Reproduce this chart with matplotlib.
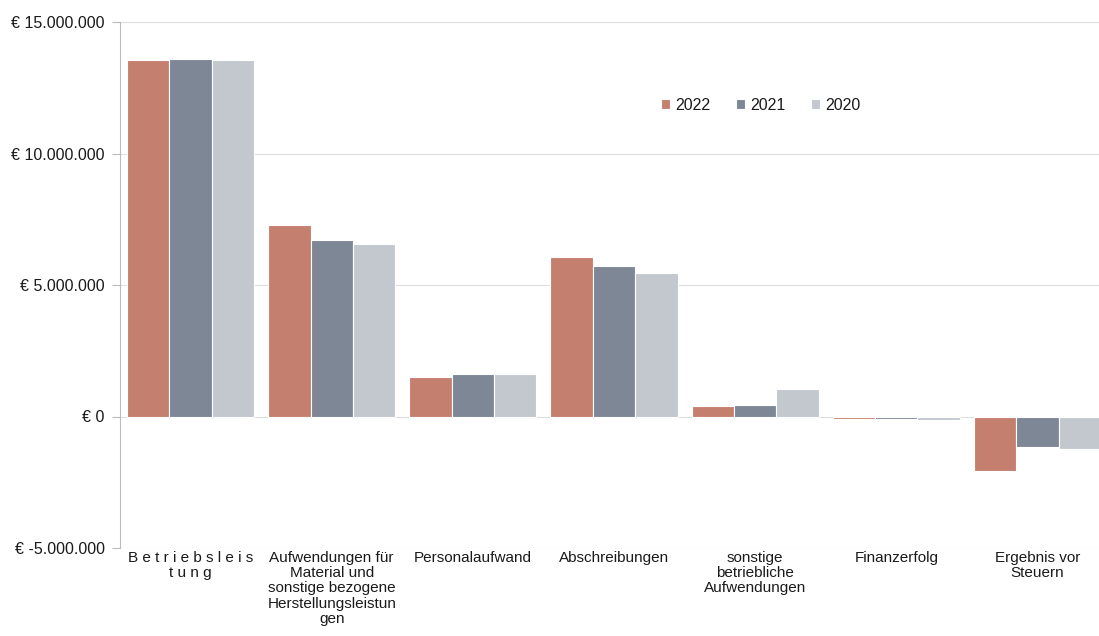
import numpy as np
import matplotlib
matplotlib.use("Agg")
import matplotlib.pyplot as plt
from matplotlib.ticker import FuncFormatter

plt.rcParams['font.family'] = ['Liberation Sans', 'DejaVu Sans']

# Kategorien und Werte (in Euro)
kategorien = [
    "B e t r i e b s l e i s\nt u n g",
    "Aufwendungen für\nMaterial und\nsonstige bezogene\nHerstellungsleistun\ngen",
    "Personalaufwand",
    "Abschreibungen",
    "sonstige\nbetriebliche\nAufwendungen",
    "Finanzerfolg",
    "Ergebnis vor\nSteuern",
]
werte_2022 = [13550000, 7300000, 1520000, 6080000, 390000, -100000, -2070000]
werte_2021 = [13600000, 6730000, 1600000, 5740000, 430000, -80000, -1150000]
werte_2020 = [13550000, 6540000, 1630000, 5440000, 1030000, -150000, -1230000]
jahre = ["2022", "2021", "2020"]
farben = ["#c47f6f", "#7e8796", "#c3c8cf"]

fig = plt.figure(figsize=(10.99, 6.36), dpi=100)
ax = fig.add_axes([120 / 1099, 1 - 548 / 636, 988 / 1099, 526 / 636])

x = np.arange(len(kategorien))
b = 0.3
for i, (werte, jahr, farbe) in enumerate(zip([werte_2022, werte_2021, werte_2020], jahre, farben)):
    ax.bar(x + (i - 1) * b, werte, width=b, color=farbe, edgecolor="white", linewidth=0.8, label=jahr, zorder=3)

ax.set_xlim(-0.5, len(kategorien) - 0.5)
ax.set_ylim(-5000000, 15000000)
ax.set_yticks([-5000000, 0, 5000000, 10000000, 15000000])

def euro(v, pos):
    return "€ " + f"{int(v):,}".replace(",", ".")

ax.yaxis.set_major_formatter(FuncFormatter(euro))
ax.tick_params(axis="y", labelsize=11.5, length=6, color="#bbbbbb", labelcolor="#1a1a1a", pad=5)
ax.set_xticks(x)
ax.set_xticklabels(kategorien, fontsize=11, color="#1a1a1a", linespacing=1.12)
ax.tick_params(axis="x", length=0, pad=2)

ax.grid(axis="y", color="#dddddd", linewidth=0.8, zorder=0)
for s in ["top", "right", "bottom"]:
    ax.spines[s].set_visible(False)
ax.spines["left"].set_color("#bbbbbb")

leg = ax.legend(loc="center left", bbox_to_anchor=(0.533, 0.842), ncol=3, frameon=False,
                fontsize=11.5, handlelength=0.55, handleheight=0.55, columnspacing=1.6, handletextpad=0.35)
for t in leg.get_texts():
    t.set_color("#1a1a1a")

fig.savefig("out.png", dpi=100)
